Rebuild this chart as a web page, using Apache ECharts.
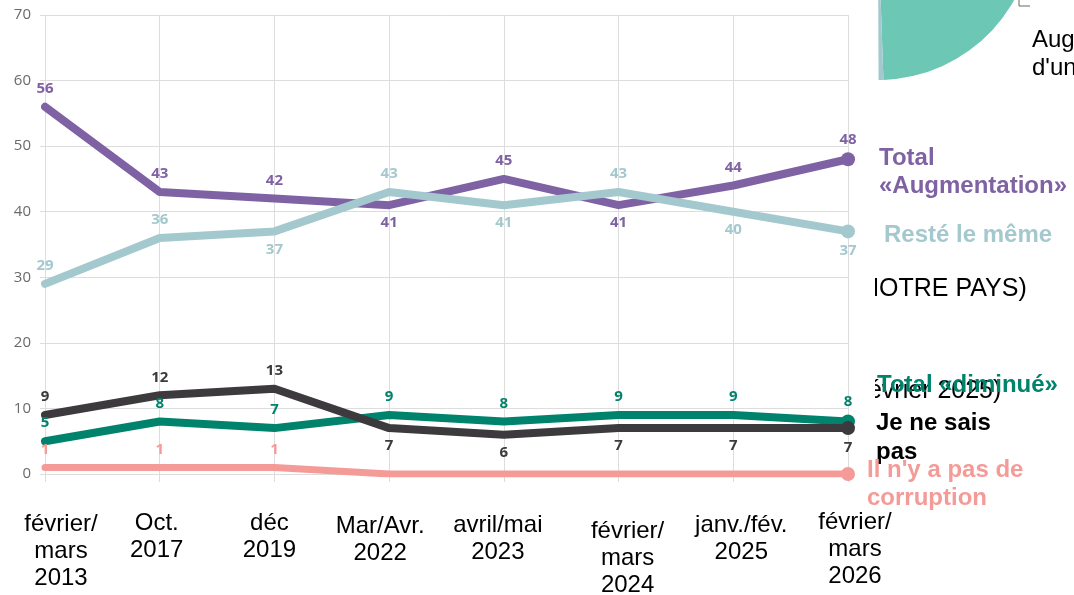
<!DOCTYPE html>
<html>
<head>
<meta charset="utf-8">
<script src="https://cdn.jsdelivr.net/npm/echarts@6/dist/echarts.min.js"></script>
<style>
  html, body { margin: 0; padding: 0; background: #fff; }
  #chart { width: 1074px; height: 595px; }
</style>
</head>
<body>
<div id="chart"></div>
<script>
const categories = [
  "février/\nmars\n2013",
  "Oct.\n2017",
  "déc\n2019",
  "Mar/Avr.\n2022",
  "avril/mai\n2023",
  "février/\nmars\n2024",
  "janv./fév.\n2025",
  "février/\nmars\n2026",
];
const augmentation = [56, 43, 42, 41, 45, 41, 44, 48];
const resteMeme = [29, 36, 37, 43, 41, 43, 40, 37];
const diminue = [5, 8, 7, 9, 8, 9, 9, 8];
const neSaisPas = [9, 12, 13, 7, 6, 7, 7, 7];
const pasCorruption = [1, 1, 1, 0, 0, 0, 0, 0];

// where each value label sits (null = no label)
const augPos = ["top", "top", "top", "bottom", "top", "bottom", "top", "top"];
const restePos = ["top", "top", "bottom", "top", "bottom", "top", "bottom", "bottom"];
const dimPos = ["top", "top", "top", "top", "top", "top", "top", "top"];
const nspPos = ["top", "top", "top", "bottom", "bottom", "bottom", "bottom", "bottom"];
const pasPos = ["top", "top", "top", null, null, null, null, null];

// the pie that sits behind the chart (only a corner shows)
const pieNames = ["Augmentation", "Autre", "Resté le même"];
const pieValues = [60, 39.5, 0.5];

const xLabelShift = [
  [16, 524], [-3, 523], [-5, 523], [-9, 526],
  [-6, 525], [9, 531], [8, 525], [7, 522],
];

const PURPLE = "#7f62a3";
const LIGHT = "#a3c9cf";
const GREEN = "#00836c";
const DARK = "#3c3a3c";
const PINK = "#f49b98";

function makeLine(name, values, positions, color, width, z) {
  return {
    name: name,
    type: "line",
    z: z,
    symbol: "circle",
    showAllSymbol: true,
    data: values.map((v, i) => {
      const last = i === values.length - 1;
      const pos = positions[i];
      return {
        value: v,
        symbolSize: last ? 14 : 1,
        itemStyle: { color: last ? color : "rgba(0,0,0,0)" },
        label: pos
          ? { show: true, position: pos, distance: last ? 5 : 10 }
          : { show: false },
      };
    }),
    lineStyle: { color: color, width: width, cap: "round", join: "round" },
    itemStyle: { color: color },
    label: {
      show: true,
      color: color,
      fontSize: 15,
      fontWeight: "bold",
      fontFamily: "Open Sans",
    },
    emphasis: { disabled: true },
  };
}

const chart = echarts.init(document.getElementById("chart"));

const boldFont = 'bold 24px "Liberation Sans", Arial, sans-serif';
const normFont = '24px "Liberation Sans", Arial, sans-serif';
const slideFont = '25px "Liberation Sans", Arial, sans-serif';

function txt(text, x, y, fill, font, z) {
  return {
    type: "text",
    z: z,
    silent: true,
    x: x,
    y: y,
    style: { text: text, fill: fill, font: font, align: "left", verticalAlign: "middle" },
  };
}

chart.setOption({
  animation: false,
  grid: { left: 45, right: 226, top: 15, bottom: 121 },
  xAxis: {
    type: "category",
    data: categories,
    boundaryGap: false,
    z: 4,
    axisLine: { show: true, lineStyle: { color: "#dddddd" } },
    axisTick: { show: true, length: 8, lineStyle: { color: "#dddddd" } },
    axisLabel: { show: false },
    splitLine: { show: true, lineStyle: { color: "#dddddd", width: 1 } },
  },
  yAxis: {
    type: "value",
    min: 0,
    max: 70,
    interval: 10,
    z: 4,
    axisLine: { show: false },
    axisTick: { show: true, length: 5, lineStyle: { color: "#dddddd" } },
    axisLabel: { color: "#6a6a6a", fontSize: 15, fontFamily: "Open Sans", margin: 14 },
    splitLine: { lineStyle: { color: "#dddddd", width: 1 } },
  },
  series: [
    {
      type: "pie",
      z: 1,
      silent: true,
      center: [878, -76],
      radius: 156,
      clockwise: false,
      startAngle: 272,
      label: { show: false },
      labelLine: { show: false },
      itemStyle: { borderWidth: 0 },
      data: pieNames.map((n, i) => ({
        name: n,
        value: pieValues[i],
        itemStyle: { color: ["#6cc8b5", "#ffffff", LIGHT][i] },
      })),
    },
    makeLine("Il n'y a pas de corruption", pasCorruption, pasPos, PINK, 7, 5),
    makeLine("Total «Augmentation»", augmentation, augPos, PURPLE, 8, 5),
    makeLine("Resté le même", resteMeme, restePos, LIGHT, 8, 5),
    makeLine("Total «diminué»", diminue, dimPos, GREEN, 8, 5),
    makeLine("Je ne sais pas", neSaisPas, nspPos, DARK, 8, 5),
  ],
});

const graphics = [
  // texts of the slide that the chart covers on the left
  txt("NOTRE PAYS)", 861, 289, "#000", slideFont, 2),
  txt("février 2025)", 861, 391, "#000", slideFont, 2),
  // white box of the chart picture
  { type: "rect", z: 3, silent: true, shape: { x: 0, y: 0, width: 875, height: 595 }, style: { fill: "#fff" } },
  // pie label on the right
  { type: "polyline", z: 2, silent: true, shape: { points: [[1019, 0], [1019, 6], [1030, 6]] }, style: { stroke: "#666", lineWidth: 1, fill: null } },
  txt("Augmentation", 1032, 40, "#000", normFont, 2),
  txt("d'une", 1032, 68, "#000", normFont, 2),
  // series names at the right end
  txt("Total", 879, 158, PURPLE, boldFont, 7),
  txt("«Augmentation»", 879, 186, PURPLE, boldFont, 7),
  txt("Resté le même", 884, 235, LIGHT, boldFont, 7),
  txt("Total «diminué»", 877, 385, GREEN, boldFont, 7),
  txt("Je ne sais", 876, 423, "#000", boldFont, 7),
  txt("pas", 876, 452, "#000", boldFont, 7),
  txt("Il n'y a pas de", 867, 470, PINK, boldFont, 7),
  txt("corruption", 867, 498, PINK, boldFont, 7),
];

// x axis labels placed under their category
categories.forEach((c, i) => {
  const px = chart.convertToPixel({ xAxisIndex: 0 }, i);
  graphics.push({
    type: "text",
    z: 7,
    silent: true,
    x: px + xLabelShift[i][0],
    y: xLabelShift[i][1] - 13.5,
    style: {
      text: c,
      fill: "#000",
      font: normFont,
      lineHeight: 27,
      align: "center",
      verticalAlign: "top",
    },
  });
});

chart.setOption({ graphic: graphics });
</script>
</body>
</html>
